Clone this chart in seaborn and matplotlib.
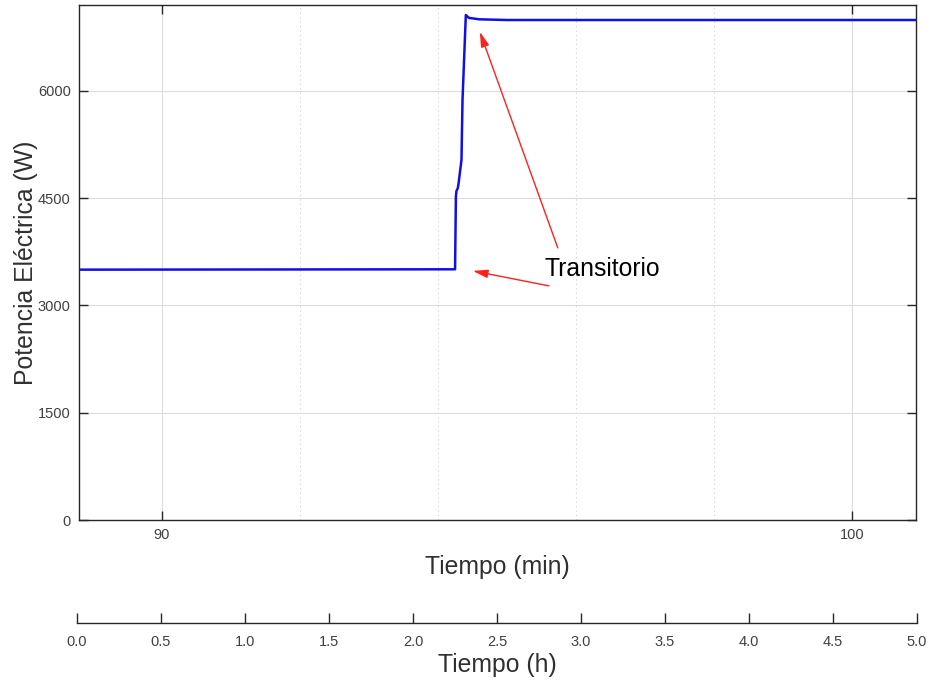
import numpy as np
import pandas as pd
import matplotlib
matplotlib.use("Agg")
import matplotlib.pyplot as plt
import seaborn as sns

# ---- data ----
tiempo_min = [88.8, 94.25, 94.262, 94.27, 94.29, 94.30, 94.343, 94.358, 94.406, 94.45, 94.6, 95.0, 100.95]
potencia_w = [3500, 3505, 4520, 4600, 4640, 4700, 5035, 5874, 7060, 7020, 7000, 6990, 6990]
y_ticks = [0, 1500, 3000, 4500, 6000]
x_major = [90, 100]
x_minor = [92, 94, 96, 98]
horas_ticks = [0.0, 0.5, 1.0, 1.5, 2.0, 2.5, 3.0, 3.5, 4.0, 4.5, 5.0]
anotacion = "Transitorio"

sns.set_style("ticks")
plt.rcParams['font.family'] = ['Liberation Sans', 'DejaVu Sans']

df = pd.DataFrame({"Tiempo (min)": tiempo_min, "Potencia Eléctrica (W)": potencia_w})

fig = plt.figure(figsize=(9.36, 6.84), dpi=100)
ax = fig.add_axes([79/936, 1-520/684, (916-79)/936, (520-5)/684])

sns.lineplot(data=df, x="Tiempo (min)", y="Potencia Eléctrica (W)", ax=ax,
             color="#1010e6", linewidth=1.8, estimator=None)

ax.set_xlim(88.8, 100.93)
ax.set_ylim(0, 7200)
ax.set_yticks(y_ticks)
ax.set_yticklabels([str(v) for v in y_ticks])
ax.set_xticks(x_major)
ax.set_xticks(x_minor, minor=True)
ax.set_xticklabels([str(v) for v in x_major])

ax.grid(True, which="major", color="#dcdcdc", linewidth=0.8, linestyle="-")
ax.grid(True, which="minor", axis="x", color="#cfcfcf", linewidth=0.8, linestyle=(0, (1, 3)))
ax.set_axisbelow(True)
ax.tick_params(which="major", direction="in", length=6.5, width=1, color="#262626",
               top=True, right=True, labelsize=10.5, labelcolor="#404040", pad=6)
ax.tick_params(which="minor", length=0)
for s in ax.spines.values():
    s.set_color("#262626")
    s.set_linewidth(1.0)
    s.set_visible(True)

ax.set_xlabel("Tiempo (min)", fontsize=17.8, color="#303030", labelpad=9)
ax.set_ylabel("Potencia Eléctrica (W)", fontsize=17.8, color="#303030", labelpad=0)

# annotations
ax.text(95.551, 3510, anotacion, fontsize=17.8, color="black", ha="left", va="center")
arrowprops = dict(arrowstyle="-|>,head_length=0.9,head_width=0.25", color="#ff2020",
                  linewidth=1.0, shrinkA=0, shrinkB=0)
ax.annotate("", xy=(94.609, 6825), xytext=(95.739, 3804), arrowprops=arrowprops)
ax.annotate("", xy=(94.507, 3483), xytext=(95.609, 3273), arrowprops=arrowprops)

# secondary hours axis
ax2 = fig.add_axes([77/936, 1-623/684, (917-77)/936, 0.0001])
ax2.set_xlim(0, 5)
ax2.set_xticks(horas_ticks)
ax2.set_xticklabels([f"{v:.1f}" for v in horas_ticks])
ax2.set_yticks([])
for side in ["top", "left", "right"]:
    ax2.spines[side].set_visible(False)
ax2.spines["bottom"].set_color("#262626")
ax2.spines["bottom"].set_linewidth(1.0)
ax2.patch.set_visible(False)
ax2.tick_params(axis="x", direction="in", length=7, width=1, color="#262626",
                labelsize=10.5, labelcolor="#404040", pad=9)
ax2.set_xlabel("Tiempo (h)", fontsize=17.8, color="#303030", labelpad=2.5)

fig.savefig("out.png", dpi=100)
